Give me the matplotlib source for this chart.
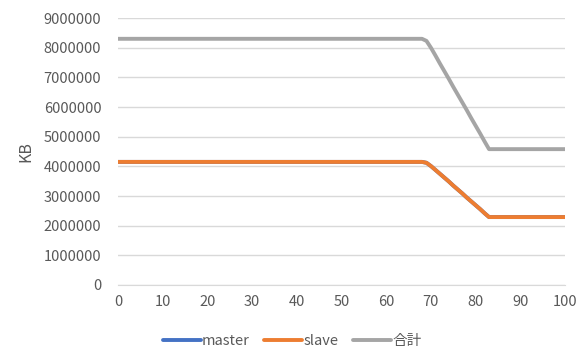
import matplotlib.pyplot as plt

plt.rcParams['font.family'] = ['Noto Sans CJK JP', 'DejaVu Sans']

# メモリ使用量 (KB)
x = [0, 68, 69, 70, 71, 72, 73, 74, 75, 76, 77, 78, 79, 80, 81, 82, 83, 100]
master = [4150000, 4150000, 4120000, 4010000, 3880000, 3750000, 3620000, 3490000, 3350000,
          3220000, 3090000, 2950000, 2820000, 2690000, 2560000, 2420000, 2290000, 2290000]
slave = [4150000, 4150000, 4120000, 4010000, 3880000, 3750000, 3620000, 3490000, 3350000,
         3220000, 3090000, 2950000, 2820000, 2690000, 2560000, 2420000, 2290000, 2290000]
total = [8300000, 8300000, 8230000, 8000000, 7740000, 7470000, 7210000, 6950000, 6680000,
         6420000, 6160000, 5900000, 5630000, 5370000, 5110000, 4840000, 4580000, 4580000]

fig = plt.figure(figsize=(5.86, 3.47), dpi=100)
ax = fig.add_axes([0.2014, 0.1787, 0.7628, 0.7693])

ax.plot(x, master, color='#4472C4', lw=2.8, label='master', solid_capstyle='round')
ax.plot(x, slave, color='#ED7D31', lw=2.8, label='slave', solid_capstyle='round')
ax.plot(x, total, color='#A5A5A5', lw=2.8, label='合計', solid_capstyle='round')

ax.set_xlim(0, 100)
ax.set_ylim(0, 9000000)
ax.set_xticks(range(0, 101, 10))
ax.set_yticks(range(0, 9000001, 1000000))
ax.get_yaxis().set_major_formatter(plt.FuncFormatter(lambda v, p: f'{int(v)}'))
ax.grid(axis='y', color='#D9D9D9', lw=1)
ax.set_axisbelow(True)
for s in ['top', 'right', 'left']:
    ax.spines[s].set_visible(False)
ax.spines['bottom'].set_color('#D9D9D9')
ax.tick_params(length=0, labelsize=10.5, labelcolor='#595959')
ax.tick_params(axis='x', pad=7)
ax.tick_params(axis='y', pad=12)
ax.set_ylabel('KB', fontsize=11.5, color='#595959', labelpad=7)

ax.legend(loc='upper center', bbox_to_anchor=(0.39, -0.135), ncol=3, frameon=False,
          fontsize=10.5, labelcolor='#595959', handlelength=2.6, columnspacing=1.0,
          handletextpad=0.1)

plt.savefig('out.png')
